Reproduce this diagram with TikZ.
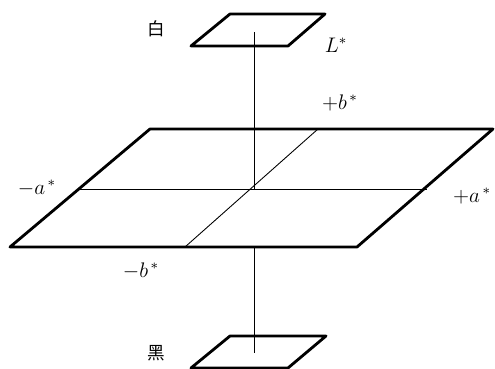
\documentclass[tikz,border=0pt]{standalone}
\usepackage{fontspec}
\newfontfamily\cjk{Noto Sans CJK SC}
\usetikzlibrary{positioning}

\begin{document}
\begin{tikzpicture}[
  x=0.02cm, y=-0.02cm,
  plane/.style={line width=1.6pt, line join=round},
  axis/.style={line width=0.5pt},
  lbl/.style={font=\large, inner sep=1pt},
  cn/.style={font=\cjk, inner sep=1pt},
]
  \useasboundingbox (0,0) rectangle (495,369);
  % corners of the three planes
  \coordinate (wtl) at (230,14);  \coordinate (wtr) at (325,14);
  \coordinate (wbr) at (288,46);  \coordinate (wbl) at (191,46);
  \coordinate (ptl) at (150,129); \coordinate (ptr) at (493,129);
  \coordinate (pbr) at (357,247); \coordinate (pbl) at (10,247);
  \coordinate (ktl) at (230,336); \coordinate (ktr) at (326,336);
  \coordinate (kbr) at (288,368); \coordinate (kbl) at (191,368);
  % axes
  \coordinate (origin) at (254,189);
  \coordinate (ltop) at (254,32);
  \coordinate (lbot) at (254,353);
  \coordinate (lhid) at (254,247);
  \coordinate (aneg) at (80,189);  \coordinate (apos) at (427,189);
  \coordinate (bpos) at (318,129); \coordinate (bneg) at (185,247);
  \draw[axis] (ltop) -- (origin);
  \draw[axis] (lhid) -- (lbot);
  \draw[axis] (aneg) -- (apos);
  \draw[axis] (bpos) -- (bneg);
  % planes
  \draw[plane] (wtl) -- (wtr) -- (wbr) -- (wbl) -- cycle;
  \draw[plane] (ptl) -- (ptr) -- (pbr) -- (pbl) -- cycle;
  \draw[plane] (ktl) -- (ktr) -- (kbr) -- (kbl) -- cycle;
  % labels
  \node[cn] (white) at (156,29) {白};
  \node[cn] (black) at (156,353) {黑};
  \node[lbl] (lstar) at (336,45) {$L^*$};
  \node[lbl] (bplus) at (340,103) {$+b^{\,*}$};
  \node[lbl] (bminus) at (141,271) {$-b^{\,*}$};
  \node[lbl] (aminus) at (37,188) {$-a^{\,*}$};
  \node[lbl] (aplus) at (472,196) {$+a^{\,*}$};
\end{tikzpicture}
\end{document}
